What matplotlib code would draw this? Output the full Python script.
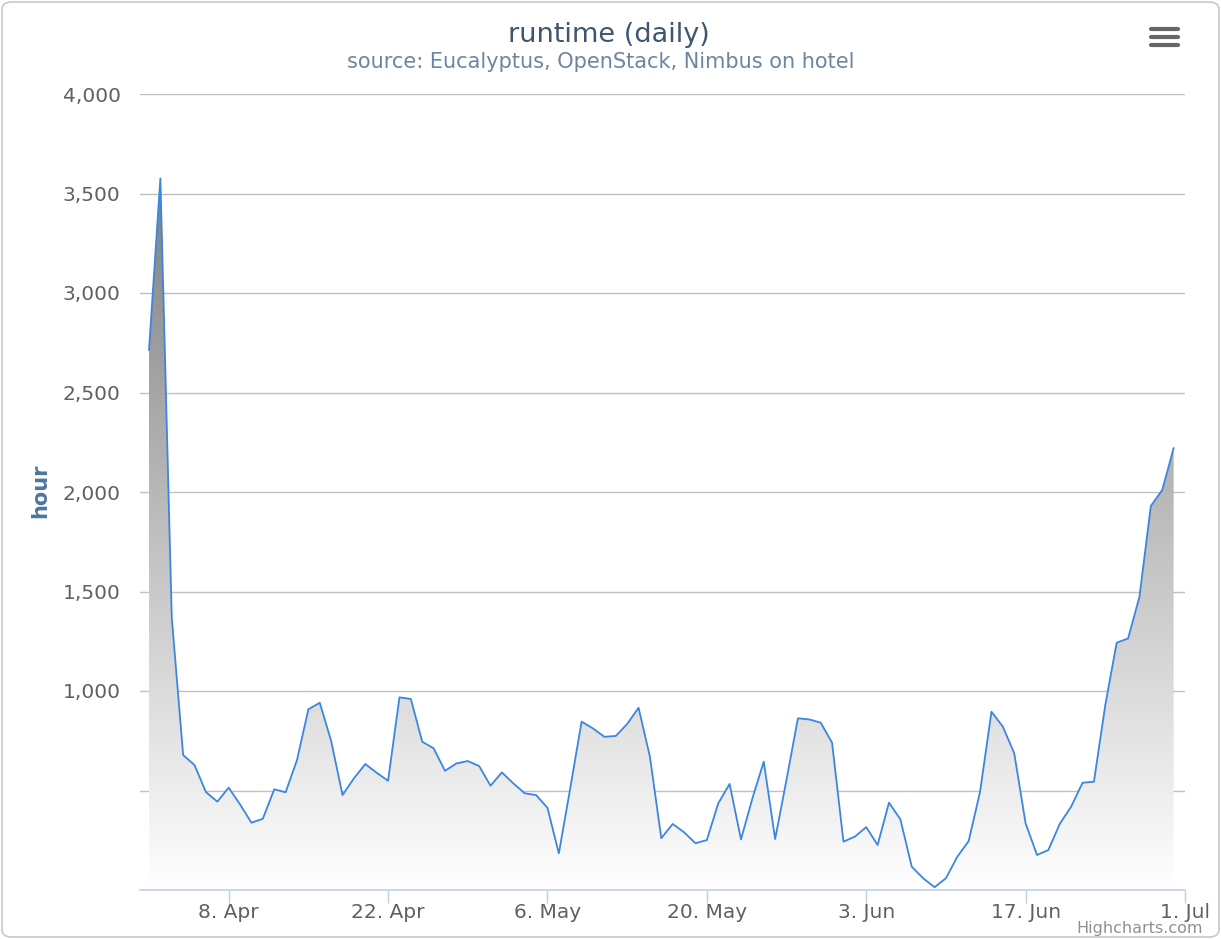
import numpy as np
import pandas as pd
import matplotlib
matplotlib.use("Agg")
import matplotlib.pyplot as plt
import matplotlib.dates as mdates
from matplotlib.patches import FancyBboxPatch
from matplotlib.lines import Line2D

# ---- data ----
start_date = "2013-04-01"
runtime_hours = [
    2714, 3576, 1370, 678, 628, 492, 444, 514, 430, 338,
    358, 506, 491, 653, 908, 941, 749, 477, 561, 633,
    589, 549, 968, 960, 745, 712, 599, 636, 648, 623,
    524, 591, 536, 486, 477, 413, 184, 511, 846, 812,
    770, 774, 834, 916, 670, 260, 332, 290, 235, 251,
    435, 533, 254, 460, 645, 256, 555, 863, 857, 841,
    740, 243, 268, 316, 226, 439, 355, 117, 59, 14,
    59, 167, 246, 494, 896, 821, 687, 335, 176, 201,
    332, 419, 539, 544, 930, 1243, 1264, 1474, 1930, 2010,
    2220,
]
dates = pd.date_range(start_date, periods=len(runtime_hours), freq="D")
y_ticks = [0, 500, 1000, 1500, 2000, 2500, 3000, 3500, 4000]
y_labels = ["", "", "1,000", "1,500", "2,000", "2,500", "3,000", "3,500", "4,000"]
x_tick_dates = ["2013-04-08", "2013-04-22", "2013-05-06", "2013-05-20",
                "2013-06-03", "2013-06-17", "2013-07-01"]
x_labels = ["8. Apr", "22. Apr", "6. May", "20. May", "3. Jun", "17. Jun", "1. Jul"]
title = "runtime (daily)"
subtitle = "source: Eucalyptus, OpenStack, Nimbus on hotel"
y_title = "hour"

W, H = 1221, 939
fig = plt.figure(figsize=(W / 100, H / 100), dpi=100)
fig.patch.set_facecolor("white")

# outer rounded border
fig.patches.append(FancyBboxPatch((2 / W, 2 / H), (W - 4) / W, (H - 4) / H,
                                  boxstyle="round,pad=0,rounding_size=0.008",
                                  transform=fig.transFigure, fill=False,
                                  edgecolor="#c8c8c8", linewidth=1.2))

left, right, top, bottom = 140, 1185, 94, 890
ax = fig.add_axes([left / W, (H - bottom) / H, (right - left) / W, (bottom - top) / H])

x = mdates.date2num(dates.to_pydatetime())
y = np.array(runtime_hours, dtype=float)

x0 = x[0] - 0.79
x1 = mdates.date2num(pd.Timestamp("2013-07-01").to_pydatetime())

# gradient fill
poly = ax.fill_between(x, y, 0, facecolor="none", edgecolor="none")
ymax = y.max()
grad = np.linspace(0, 1, 256).reshape(-1, 1)
c_top = np.array([0.50, 0.50, 0.50])
c_bot = np.array([1.0, 1.0, 1.0])
img = c_top[None, None, :] * (1 - grad[:, :, None]) + c_bot[None, None, :] * grad[:, :, None]
im = ax.imshow(img, extent=[x[0], x[-1], 0, ymax], origin="upper", aspect="auto", zorder=1)
im.set_clip_path(poly.get_paths()[0], transform=ax.transData)
ax.set_xlim(x0, x1)
ax.set_ylim(0, 4000)

ax.plot(x, y, color="#3b86e0", linewidth=1.3, zorder=3)

# grid
ax.set_yticks(y_ticks)
ax.set_yticklabels(y_labels)
ax.yaxis.grid(True, color="#c0c0c0", linewidth=1)
ax.set_axisbelow(True)
ax.tick_params(axis="y", length=0, pad=14, labelsize=14.5, labelcolor="#606060")

xt = [mdates.date2num(pd.Timestamp(d).to_pydatetime()) for d in x_tick_dates]
ax.set_xticks(xt)
ax.set_xticklabels(x_labels)
ax.tick_params(axis="x", length=9, width=1, color="#c0d0e0", pad=0,
               labelsize=14.5, labelcolor="#606060")

for s in ["top", "right", "left"]:
    ax.spines[s].set_visible(False)
ax.spines["bottom"].set_color("#c0d0e0")
ax.spines["bottom"].set_linewidth(1.2)
ax.set_facecolor("none")

fig.text(609 / W, 1 - 35 / H, title, ha="center", va="center",
         fontsize=19.5, color="#3e576f")
fig.text(601 / W, 1 - 62 / H, subtitle, ha="center", va="center",
         fontsize=15, color="#6d869f")
fig.text(40 / W, 1 - 491 / H, y_title, ha="center", va="center", rotation=90,
         fontsize=15, fontweight="bold", color="#4d759e")
fig.text(1203 / W, 1 - 929 / H, "Highcharts.com", ha="right", va="center",
         fontsize=11.5, color="#909090")

# export menu icon
for yy in (29, 37, 45):
    fig.add_artist(Line2D([1151 / W, 1178 / W], [1 - yy / H, 1 - yy / H],
                          transform=fig.transFigure, color="#666666",
                          linewidth=3.0, solid_capstyle="round"))

fig.savefig("out.png", dpi=100)
